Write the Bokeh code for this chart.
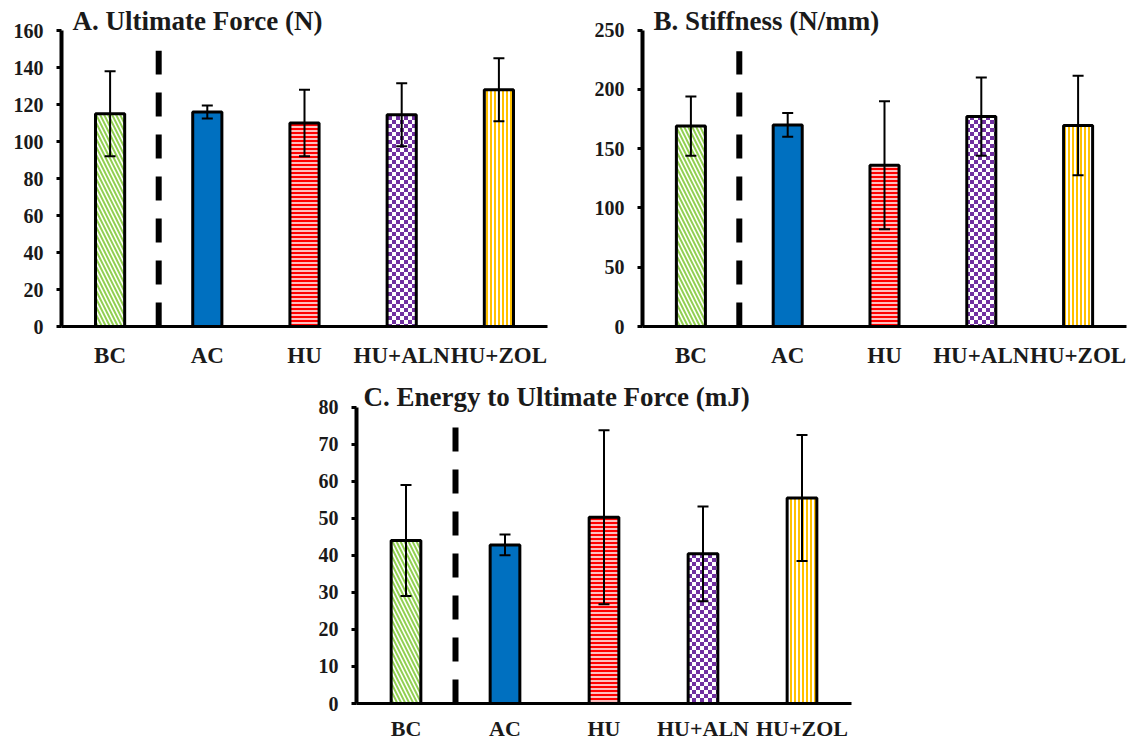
import base64
from bokeh.plotting import figure
from bokeh.models import (ColumnDataSource, FactorRange, Range1d, Whisker, TeeHead, Label,
                          SingleIntervalTicker, ImageURLTexture, Spacer)
from bokeh.layouts import column, row
from bokeh.transform import dodge
from bokeh.embed import file_html
from bokeh.resources import INLINE

# ---------------- data ----------------
groups = ["BC", "AC", "HU", "HU+ALN", "HU+ZOL"]

force_mean = [115, 116, 110, 114.5, 128]
force_sd = [23, 3.5, 18, 17, 17]

stiff_mean = [169, 170, 136, 177, 169.5]
stiff_sd = [25, 10, 54, 33, 42]

energy_mean = [44, 42.8, 50.3, 40.4, 55.5]
energy_sd = [15, 2.8, 23.5, 12.8, 17]

titles = ["A. Ultimate Force (N)", "B. Stiffness (N/mm)", "C. Energy to Ultimate Force (mJ)"]
y_max = [160, 250, 80]
y_step = [20, 50, 10]
divider_top = [149, 232, 75]

# ---------------- styles ----------------
fill_colors = ["white", "#0070C0", "#FF0000", "white", "white"]
hatch_patterns = ["\\", " ", "-", "checker", "|"]
hatch_colors = ["#92D050", "#0070C0", "white", "#7030A0", "#FFC000"]
hatch_weights = [2, 1, 1.5, 1, 2]
hatch_scales = [8, 4, 4, 8, 4]

FONT = "Liberation Serif"

checker_svg = ('<svg xmlns="http://www.w3.org/2000/svg" width="8" height="8">'
               '<rect width="8" height="8" fill="white"/>'
               '<rect width="4" height="4" fill="#7030A0"/>'
               '<rect x="4" y="4" width="4" height="4" fill="#7030A0"/></svg>')
checker_url = "data:image/svg+xml;base64," + base64.b64encode(checker_svg.encode()).decode()


def panel(mean, sd, title, ymax, step, div_top, fw, fh, bl, br, bt, bb,
          y_end, title_x, title_y, xstandoff, xfont):
    p = figure(x_range=FactorRange(factors=groups), y_range=Range1d(0, y_end),
               frame_width=fw, frame_height=fh, min_border_left=bl, min_border_right=br,
               min_border_top=bt, min_border_bottom=bb, output_backend="svg",
               toolbar_location=None, title=None, tools="")
    p.outline_line_color = None
    p.grid.visible = False
    p.background_fill_color = "white"
    p.border_fill_color = "white"

    src = ColumnDataSource(dict(
        groups=groups, mean=mean,
        upper=[m + s for m, s in zip(mean, sd)],
        lower=[m - s for m, s in zip(mean, sd)],
        fill=fill_colors, hatch=hatch_patterns, hcolor=hatch_colors,
        hweight=hatch_weights, hscale=hatch_scales))

    r = p.vbar(x="groups", top="mean", width=0.3, source=src, fill_color="fill",
               line_color="black", line_width=3, hatch_pattern="hatch",
               hatch_color="hcolor", hatch_weight="hweight", hatch_scale="hscale")
    r.glyph.hatch_extra = {"checker": ImageURLTexture(url=checker_url, repetition="repeat")}

    dsrc = ColumnDataSource(dict(g=[groups[0]], y0=[0], y1=[div_top]))
    p.segment(x0=dodge("g", 0.5, range=p.x_range), y0="y0",
              x1=dodge("g", 0.5, range=p.x_range), y1="y1", source=dsrc,
              line_width=6, line_color="black", line_dash="24 18", line_cap="butt")

    w = Whisker(source=src, base="groups", upper="upper", lower="lower",
                line_width=2, line_color="black", level="overlay",
                upper_head=TeeHead(size=11, line_width=2, line_color="black"),
                lower_head=TeeHead(size=11, line_width=2, line_color="black"))
    p.add_layout(w)

    p.yaxis.bounds = (0, ymax)
    p.yaxis.ticker = SingleIntervalTicker(interval=step)
    p.yaxis.axis_line_width = 4
    p.yaxis.major_tick_line_width = 3
    p.yaxis.major_tick_out = 5
    p.yaxis.major_tick_in = 0
    p.yaxis.minor_tick_line_color = None
    p.yaxis.major_label_text_font = FONT
    p.yaxis.major_label_text_font_style = "bold"
    p.yaxis.major_label_text_font_size = "20px"
    p.yaxis.major_label_text_color = "#1a1a1a"
    p.yaxis.major_label_standoff = 13

    p.xaxis.axis_line_width = 3
    p.xaxis.major_tick_line_color = None
    p.xaxis.minor_tick_line_color = None
    p.xaxis.major_label_text_font = FONT
    p.xaxis.major_label_text_font_style = "bold"
    p.xaxis.major_label_text_font_size = xfont
    p.xaxis.major_label_text_color = "#1a1a1a"
    p.xaxis.major_label_standoff = xstandoff

    p.add_layout(Label(x=title_x, y=title_y, text=title, text_font=FONT,
                       text_font_style="bold", text_font_size="27px",
                       text_color="#1a1a1a", text_align="left",
                       text_baseline="middle"))
    return p


pA = panel(force_mean, force_sd, titles[0], y_max[0], y_step[0], divider_top[0],
           486, 316, 61, 35, 10, 52, 160 * 316 / 296, 0.113, 165.4, 10, "23px")
pB = panel(stiff_mean, stiff_sd, titles[1], y_max[1], y_step[1], divider_top[1],
           484, 316, 60, 5, 10, 52, 250 * 316 / 296.5, 0.114, 258, 10, "23px")
pC = panel(energy_mean, energy_sd, titles[2], y_max[2], y_step[2], divider_top[2],
           495, 319, 56, 10, 6, 38, 80 * 319 / 296.3, 0.07, 82.7, 6, "22px")

layout = column(row(pA, pB), row(Spacer(width=300, height=360), pC))

open("out.html", "w").write(file_html(layout, INLINE))
